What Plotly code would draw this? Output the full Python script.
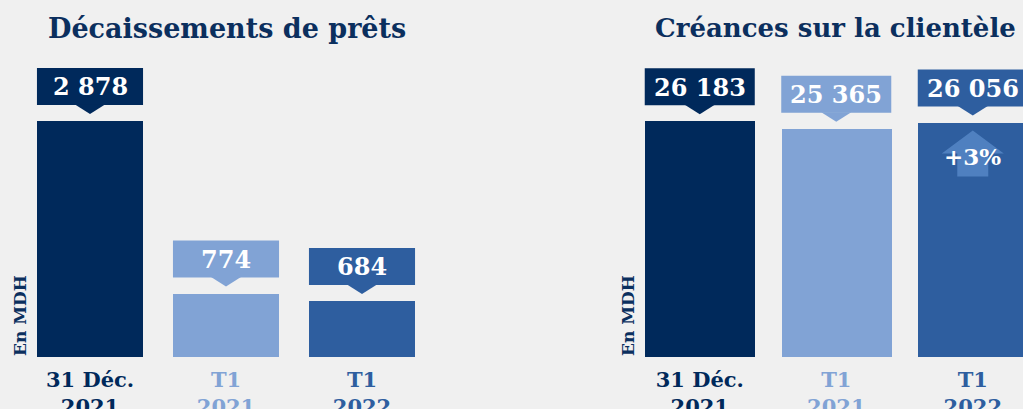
import plotly.graph_objects as go

# ---- data ----
categories = ["31 Déc.<br>2021", "T1<br>2021", "T1<br>2022"]
decaissements = [2878, 774, 684]
creances = [26183, 25365, 26056]
growth_label = "+3%"
titles = ["Décaissements de prêts", "Créances sur la clientèle"]
unit_label = "En MDH"

# ---- styles ----
bar_colors = ["#00295b", "#81a3d5", "#2e5e9f"]
arrow_color = "#4f80c0"
title_color = "#0b2f5e"
bg = "#f0f0f0"
FONT = "DejaVu Serif"

def fmt(v):
    return f"{v:,}".replace(",", " ")

W, H = 1023, 409
mt, mb = 60, 52
ph = H - mt - mb

fig = go.Figure()

x_idx = [0, 1, 2]
panels = [
    dict(vals=decaissements, xa="x", ya="y", width=0.78),
    dict(vals=creances, xa="x2", ya="y2", width=0.806),
]

shapes = []
annotations = []
for p in panels:
    fig.add_trace(go.Bar(
        x=x_idx, y=p["vals"], width=p["width"],
        marker=dict(color=bar_colors, line=dict(width=0)),
        xaxis=p["xa"], yaxis=p["ya"], hoverinfo="skip", showlegend=False,
    ))
    for i, v in enumerate(p["vals"]):
        # callout box
        shapes.append(dict(
            type="rect", xref=p["xa"], yref=p["ya"],
            x0=i - p["width"] / 2, x1=i + p["width"] / 2,
            ysizemode="pixel", yanchor=v, y0=16, y1=53,
            fillcolor=bar_colors[i], line=dict(width=0), layer="above",
        ))
        shapes.append(dict(
            type="path", xref=p["xa"], yref=p["ya"],
            xsizemode="pixel", xanchor=i, ysizemode="pixel", yanchor=v,
            path="M -15,16.5 L 15,16.5 L 0,7 Z",
            fillcolor=bar_colors[i], line=dict(width=0), layer="above",
        ))
        annotations.append(dict(
            x=i, y=v, xref=p["xa"], yref=p["ya"], yshift=34,
            text=f"<b>{fmt(v)}</b>", showarrow=False,
            font=dict(family=FONT, size=24, color="white"),
            xanchor="center", yanchor="middle",
        ))

# growth arrow in the third bar of the right panel
shapes.append(dict(
    type="path", xref="x2", yref="y2",
    xsizemode="pixel", xanchor=2, ysizemode="pixel", yanchor=creances[2],
    path="M 0,-8 L 31,-31 L 15.5,-31 L 15.5,-54 L -15.5,-54 L -15.5,-31 L -31,-31 Z",
    fillcolor=arrow_color, line=dict(width=0), layer="above",
))
annotations.append(dict(
    x=2, y=creances[2], xref="x2", yref="y2", yshift=-34,
    text=f"<b>{growth_label}</b>", showarrow=False,
    font=dict(family=FONT, size=23, color="white"),
    xanchor="center", yanchor="middle",
))

def py(pix):
    return (H - mb - pix) / ph

# titles
annotations.append(dict(x=227 / W, y=py(28), xref="paper", yref="paper",
                        text=f"<b>{titles[0]}</b>", showarrow=False,
                        font=dict(family=FONT, size=27, color=title_color),
                        xanchor="center", yanchor="middle"))
annotations.append(dict(x=835 / W, y=py(28), xref="paper", yref="paper",
                        text=f"<b>{titles[1]}</b>", showarrow=False,
                        font=dict(family=FONT, size=26, color=title_color),
                        xanchor="center", yanchor="middle"))
# unit labels
for xp in (20, 628):
    annotations.append(dict(x=xp / W, y=py(316), xref="paper", yref="paper",
                            text=f"<b>{unit_label}</b>", showarrow=False, textangle=-90,
                            font=dict(family=FONT, size=17, color=title_color),
                            xanchor="center", yanchor="middle"))

ticktext = [f"<b><span style='color:{c}'>{t}</span></b>" for t, c in zip(categories, bar_colors)]

axis_common = dict(showgrid=False, zeroline=False, showline=False, ticks="",
                   tickvals=x_idx, ticktext=ticktext, ticklabelstandoff=8,
                   automargin=False,
                   tickfont=dict(family=FONT, size=21))
fig.update_layout(
    width=W, height=H,
    margin=dict(l=0, r=0, t=mt, b=mb),
    paper_bgcolor=bg, plot_bgcolor=bg,
    xaxis=dict(domain=[22 / W, 430 / W], range=[-0.5, 2.5], anchor="y", **axis_common),
    xaxis2=dict(domain=[631.5 / W, 1.0], range=[-0.5, 2.368], anchor="y2", **axis_common),
    yaxis=dict(range=[0, 3620], visible=False, domain=[0, 1], automargin=False),
    yaxis2=dict(range=[0, 33000], visible=False, anchor="x2", domain=[0, 1], automargin=False),
    shapes=shapes, annotations=annotations,
    bargap=0,
)

fig.write_html("out.html", config={"displayModeBar": False},
               post_script="document.body.style.margin='0';document.body.style.background='#f0f0f0';")
